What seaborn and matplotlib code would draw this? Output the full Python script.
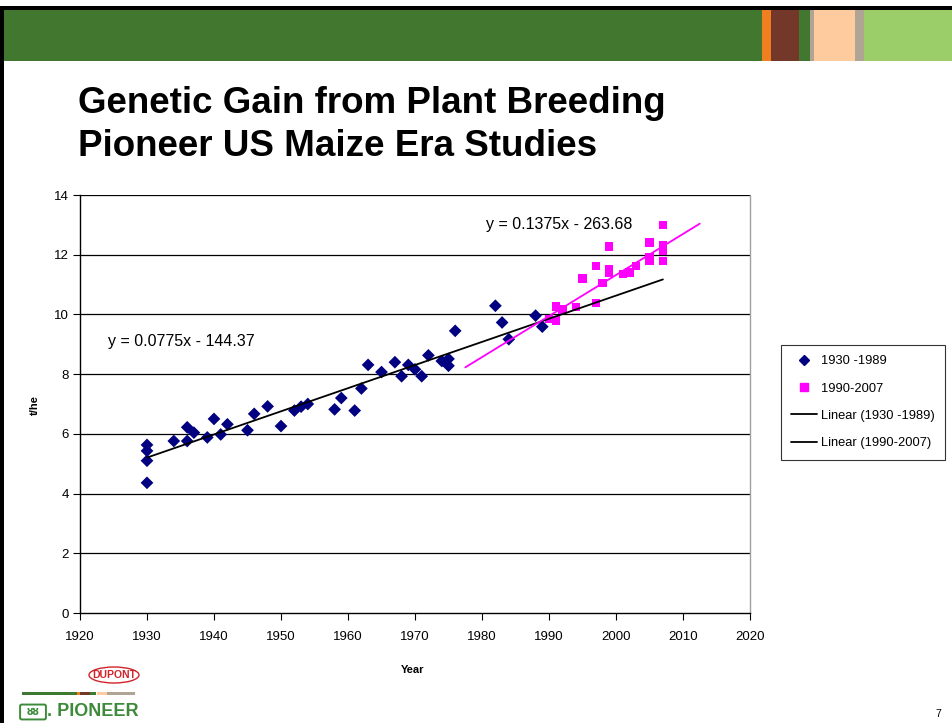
import matplotlib
matplotlib.use("Agg")
from matplotlib import pyplot as plt
from matplotlib.lines import Line2D
from matplotlib.patches import Rectangle, Ellipse, FancyBboxPatch
import seaborn as sns
import numpy as np
import pandas as pd

# Data
years_old = [1930, 1930, 1930, 1930, 1934, 1936, 1936, 1937, 1939, 1940,
             1941, 1942, 1945, 1946, 1948, 1950, 1952, 1953, 1954, 1958,
             1959, 1961, 1962, 1963, 1965, 1967, 1968, 1969, 1970, 1971,
             1972, 1974, 1975, 1975, 1976, 1982, 1983, 1984, 1988, 1989]
yield_old = [5.63, 5.43, 5.10, 4.36, 5.76, 6.22, 5.76, 6.04, 5.88, 6.50,
             5.98, 6.32, 6.12, 6.67, 6.92, 6.26, 6.78, 6.91, 7.00, 6.82,
             7.20, 6.78, 7.52, 8.31, 8.07, 8.40, 7.93, 8.31, 8.16, 7.93,
             8.63, 8.44, 8.51, 8.28, 9.45, 10.29, 9.73, 9.17, 9.96, 9.59]

years_new = [1990, 1991, 1991, 1992, 1994, 1995, 1997, 1997, 1998, 1999,
             1999, 1999, 2001, 2002, 2003, 2005, 2005, 2005, 2007, 2007,
             2007, 2007]
yield_new = [9.85, 10.27, 9.80, 10.16, 10.24, 11.20, 11.62, 10.39, 11.06, 12.27,
             11.52, 11.38, 11.35, 11.40, 11.62, 12.41, 11.93, 11.79, 13.00, 12.32,
             12.13, 11.80]

# trendline equations printed on the chart and the span each is drawn over
trend_slope = [0.0775, 0.1375]
trend_icpt = [-144.37, -263.68]
trend_span = [(1930, 2007), (1977.5, 2012.5)]
trend_colors = ["black", "#FF00FF"]
trend_labels = ["y = 0.0775x - 144.37", "y = 0.1375x - 263.68"]

legend_labels = ["1930 -1989", "1990-2007", "Linear (1930 -1989)", "Linear (1990-2007)"]

df_old = pd.DataFrame({"year": years_old, "yield": yield_old})
df_new = pd.DataFrame({"year": years_new, "yield": yield_new})

sns.set_style("white")
plt.rcParams["font.family"] = ["Liberation Sans", "DejaVu Sans"]
for key in ["text.color", "axes.labelcolor", "xtick.color", "ytick.color"]:
    plt.rcParams[key] = "black"

W, H = 952, 723
fig = plt.figure(figsize=(W / 100, H / 100), dpi=100)


def px(x, y):
    return x / W, 1 - y / H


def box(x0, y0, x1, y1, color):
    fx, fy = px(x0, y1)
    fig.add_artist(Rectangle((fx, fy), (x1 - x0) / W, (y1 - y0) / H,
                             transform=fig.transFigure, color=color, lw=0, zorder=0))


# slide frame and header strip
box(0, 6, 952, 10, "black")
box(0, 6, 4, 723, "black")
box(4, 10, 952, 61, "#427730")
box(762, 10, 771, 61, "#F07F1F")
box(771, 10, 799, 61, "#74382B")
box(810, 10, 814, 61, "#B0A595")
box(814, 10, 855, 61, "#FDCB9E")
box(855, 10, 864, 61, "#B0A595")
box(864, 10, 952, 61, "#9BCD68")

# title
fig.text(*px(78, 113), "Genetic Gain from Plant Breeding", fontsize=26.5,
         fontweight="bold", va="baseline", ha="left")
fig.text(*px(78, 156), "Pioneer US Maize Era Studies", fontsize=26.5,
         fontweight="bold", va="baseline", ha="left")

# axes
l, b = px(80, 613)
r, t = px(750, 195)
ax = fig.add_axes([l, b, r - l, t - b])

for y in range(2, 15, 2):
    ax.axhline(y, color="black", lw=0.9, zorder=1)

sns.scatterplot(data=df_old, x="year", y="yield", marker="D", color="#000080",
                s=42, edgecolor="none", ax=ax, zorder=3, legend=False)
sns.scatterplot(data=df_new, x="year", y="yield", marker="s", color="#FF00FF",
                s=36, edgecolor="none", ax=ax, zorder=3, legend=False)

for k in range(2):
    xs = np.array(trend_span[k])
    trend = pd.DataFrame({"year": xs, "yield": trend_slope[k] * xs + trend_icpt[k]})
    sns.lineplot(data=trend, x="year", y="yield", color=trend_colors[k], lw=1.3,
                 ax=ax, zorder=4)

ax.text(1924.2, 9.08, trend_labels[0], fontsize=11.5, va="center", ha="left")
ax.text(1980.6, 13.01, trend_labels[1], fontsize=11.5, va="center", ha="left")

ax.set_xlim(1920, 2020)
ax.set_ylim(0, 14)
ax.set_xticks(range(1920, 2021, 10))
ax.set_yticks(range(0, 15, 2))
ax.tick_params(axis="both", direction="out", length=5, width=0.8, color="black",
               labelsize=9.5, pad=3, bottom=True, left=True)
ax.tick_params(axis="x", pad=8)
for s in ["left", "bottom"]:
    ax.spines[s].set_color("black")
    ax.spines[s].set_linewidth(1.0)
ax.spines["top"].set_visible(False)
ax.spines["right"].set_color("#A0A0A0")
ax.spines["right"].set_linewidth(1.0)
ax.set_xlabel("")
ax.set_ylabel("")

fig.text(*px(413, 670), "Year", fontsize=8, fontweight="bold", ha="center", va="center")
fig.text(*px(35, 405), "t/he", fontsize=8, fontweight="bold", ha="center", va="center",
         rotation=90)

# legend
handles = [
    Line2D([], [], marker="D", color="#000080", ls="none", ms=5),
    Line2D([], [], marker="s", color="#FF00FF", ls="none", ms=5.5),
    Line2D([], [], color="black", lw=1.3),
    Line2D([], [], color="black", lw=1.3),
]
lx, ly = px(781, 345)
leg = fig.legend(handles, legend_labels, loc="upper left", bbox_to_anchor=(lx, ly),
                 bbox_transform=fig.transFigure, fontsize=9.3, frameon=True,
                 fancybox=False, shadow=False, borderpad=0.8, labelspacing=1.18,
                 handlelength=2.0, handletextpad=0.3, borderaxespad=0)
leg.get_frame().set_edgecolor("black")
leg.get_frame().set_linewidth(0.8)

# footer logos
box(22, 692, 77, 695, "#3C7A32")
box(77, 692, 80, 695, "#F07F1F")
box(80, 692, 90, 695, "#74382B")
box(90, 692, 96, 695, "#3C7A32")
box(97, 692, 107, 695, "#FDCB9E")
box(107, 692, 135, 695, "#B0A595")

cx, cy = px(114, 675)
fig.add_artist(Ellipse((cx, cy), 50 / W, 16 / H, transform=fig.transFigure,
                       fill=False, edgecolor="#D2232A", lw=1.0))
fig.text(cx, cy, "DUPONT", fontsize=7.5, color="#D2232A", ha="center", va="center",
         fontweight="bold")

bx, by = px(22, 718)
fig.add_artist(FancyBboxPatch((bx, by), 22 / W, 12 / H, transform=fig.transFigure,
                              boxstyle="round,pad=0.002", fill=False,
                              edgecolor="#3C8A3A", lw=1.4))
fig.text(*px(33, 712), "ȣȣ", fontsize=7, color="#3C8A3A", ha="center", va="center",
         fontweight="bold", family=["DejaVu Sans"])
fig.text(*px(47, 712), ". PIONEER", fontsize=13, color="#3C8A3A", ha="left",
         va="center", fontweight="bold")

fig.text(*px(938, 714), "7", fontsize=7.5, ha="center", va="center")

fig.savefig("out.png", dpi=100)
